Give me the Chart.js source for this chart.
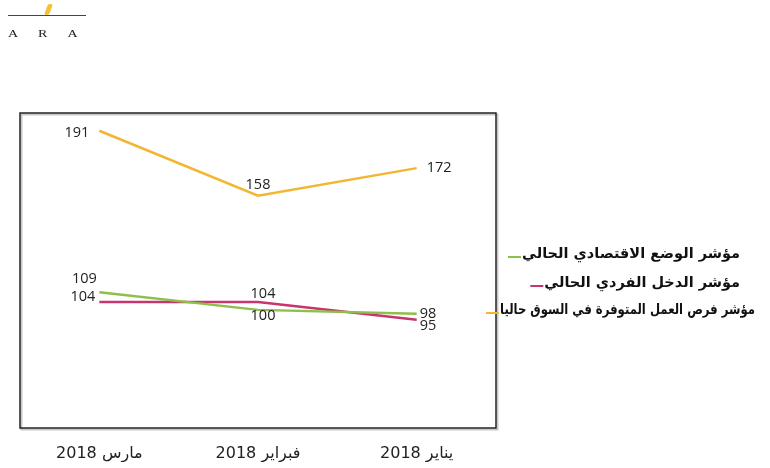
<!DOCTYPE html>
<html lang="ar">
<head>
<meta charset="utf-8">
<script src="https://cdn.jsdelivr.net/npm/chart.js@4.4.0/dist/chart.umd.min.js"></script>
<style>
  html, body { margin: 0; padding: 0; background: #fff; }
  #wrap { position: relative; width: 770px; height: 468px; }
  #logo { position: absolute; left: 6px; top: 0; width: 84px; height: 40px; }
  #logo .line { position: absolute; left: 2px; top: 15px; width: 78px; height: 1px; background: #444; }
  #logo .flame { position: absolute; left: 40px; top: 4px; width: 5px; height: 11px; background: #f2c230; transform: skewX(-20deg); border-radius: 2px; }
  #logo .txt { position: absolute; left: 2px; top: 26px; font: 14px "Liberation Serif", serif; letter-spacing: 20px; color: #222; transform: scaleY(0.8); }
</style>
</head>
<body>
<div id="wrap">
  <canvas id="grafico" width="770" height="468"></canvas>
  <div id="logo"><div class="line"></div><div class="flame"></div><div class="txt">ARA</div></div>
</div>
<script>
// Dados
const meses = ["مارس 2018", "فبراير 2018", "يناير 2018"];
const situacaoEconomica = [109, 100, 98];  // مؤشر الوضع الاقتصادي الحالي
const rendaIndividual = [104, 104, 95];    // مؤشر الدخل الفردي الحالي
const oportunidades = [191, 158, 172];     // مؤشر فرص العمل المتوفرة في السوق حاليا

const rotulos = [
  "مؤشر الوضع الاقتصادي الحالي",
  "مؤشر الدخل الفردي الحالي",
  "مؤشر فرص العمل المتوفرة في السوق حاليا",
];

// posição dos rótulos de cada ponto: [alinhamento, dx, dy]
const posicoes = [
  [["center", -15, -13], ["center", 5, 6], ["left", 3, 0]],
  [["right", -4, -5], ["center", 5, -8], ["left", 3, 6]],
  [["right", -10, 2], ["center", 0, -11], ["left", 10, 0]],
];

// legenda: [y, borda direita, largura máxima]
const legendaPos = [
  [254, 740, 235],
  [283, 740, 198],
  [310, 755, 255],
];

const pluginCaixa = {
  id: "caixa",
  afterDraw(chart) {
    const { ctx, chartArea: a } = chart;
    ctx.save();
    ctx.strokeStyle = "#c8c8c8";
    ctx.lineWidth = 2;
    ctx.strokeRect(a.left + 1.5, a.top + 1.5, a.right - a.left, a.bottom - a.top);
    ctx.strokeStyle = "#222";
    ctx.lineWidth = 1.5;
    ctx.strokeRect(a.left, a.top, a.right - a.left, a.bottom - a.top);
    ctx.restore();
  },
};

const pluginValores = {
  id: "valores",
  afterDatasetsDraw(chart) {
    const { ctx } = chart;
    ctx.save();
    ctx.font = "14.5px 'Open Sans', sans-serif";
    ctx.fillStyle = "#222";
    ctx.textBaseline = "middle";
    chart.data.datasets.forEach((ds, i) => {
      const meta = chart.getDatasetMeta(i);
      meta.data.forEach((pt, j) => {
        const [al, dx, dy] = posicoes[i][j];
        ctx.textAlign = al;
        ctx.fillText(String(ds.data[j]), pt.x + dx, pt.y + dy);
      });
    });
    ctx.restore();
  },
};

const pluginLegenda = {
  id: "legenda",
  afterDraw(chart) {
    const { ctx } = chart;
    ctx.save();
    ctx.font = "bold 14.5px 'DejaVu Sans', sans-serif";
    ctx.textBaseline = "middle";
    ctx.textAlign = "right";
    chart.data.datasets.forEach((ds, i) => {
      const [y, xd, maxW] = legendaPos[i];
      ctx.fillStyle = "#111";
      ctx.fillText(ds.label, xd, y, maxW);
      const w = Math.min(ctx.measureText(ds.label).width, maxW);
      ctx.strokeStyle = ds.borderColor;
      ctx.lineWidth = 2;
      ctx.beginPath();
      ctx.moveTo(xd - w - 1, y + 3);
      ctx.lineTo(xd - w - 14, y + 3);
      ctx.stroke();
    });
    ctx.restore();
  },
};

new Chart(document.getElementById("grafico"), {
  type: "line",
  data: {
    labels: meses,
    datasets: [
      { label: rotulos[0], data: situacaoEconomica, borderColor: "#8dc04a" },
      { label: rotulos[1], data: rendaIndividual, borderColor: "#c7346e" },
      { label: rotulos[2], data: oportunidades, borderColor: "#f2b632" },
    ],
  },
  options: {
    responsive: false,
    animation: false,
    layout: { padding: { left: 20, top: 113, right: 274, bottom: 6 } },
    elements: {
      line: { borderWidth: 2.5, tension: 0, fill: false },
      point: { radius: 0 },
    },
    plugins: {
      legend: { display: false },
      tooltip: { enabled: false },
    },
    scales: {
      x: {
        offset: true,
        grid: { display: false },
        border: { display: false },
        afterFit(s) { s.height = 34; },
        ticks: {
          padding: 8,
          color: "#222",
          font: { size: 16, family: "'DejaVu Sans', sans-serif" },
        },
      },
      y: {
        display: false,
        min: 40,
        max: 200,
      },
    },
  },
  plugins: [pluginCaixa, pluginValores, pluginLegenda],
});
</script>
</body>
</html>
